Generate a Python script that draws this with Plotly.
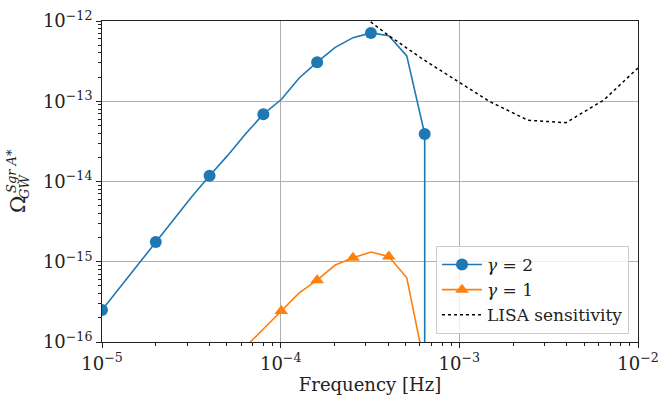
import plotly.graph_objects as go

# ---------------- data ----------------
freq_g2 = [1.0e-5, 1.26e-5, 1.59e-5, 2.0e-5, 2.52e-5, 3.17e-5, 4.0e-5, 5.04e-5, 6.35e-5,
           8.0e-5, 1.008e-4, 1.27e-4, 1.6e-4, 2.02e-4, 2.54e-4, 3.2e-4, 4.03e-4, 5.08e-4,
           6.4e-4, 6.41e-4]
omega_g2 = [2.5e-16, 4.8e-16, 9.2e-16, 1.76e-15, 3.4e-15, 6.4e-15, 1.18e-14, 2.1e-14, 3.9e-14,
            6.9e-14, 1.05e-13, 1.95e-13, 3.07e-13, 4.7e-13, 6.2e-13, 7.1e-13, 6.56e-13, 3.67e-13,
            3.9e-14, 1e-100]
marker_idx_g2 = [0, 3, 6, 9, 12, 15, 18]

freq_g1 = [5.04e-5, 6.35e-5, 8.0e-5, 1.008e-4, 1.27e-4, 1.6e-4, 2.02e-4, 2.54e-4, 3.2e-4,
           4.03e-4, 5.08e-4, 6.4e-4, 8.06e-4]
omega_g1 = [5.0e-17, 8.7e-17, 1.45e-16, 2.43e-16, 4.1e-16, 5.9e-16, 9.1e-16, 1.12e-15, 1.32e-15,
            1.16e-15, 6.3e-16, 5.0e-17, 1e-100]
marker_idx_g1 = [3, 5, 7, 9]

freq_lisa = [3.0e-4, 3.98e-4, 6.3e-4, 1.0e-3, 1.48e-3, 2.42e-3, 3.95e-3, 6.45e-3, 1.0e-2]
omega_lisa = [1.08e-12, 6.7e-13, 3.3e-13, 1.7e-13, 9.9e-14, 5.8e-14, 5.4e-14, 1.04e-13, 2.6e-13]

x_tickvals = [1e-5, 1e-4, 1e-3, 1e-2]
x_ticktext = ["10<sup>\u22125</sup>", "10<sup>\u22124</sup>", "10<sup>\u22123</sup>", "10<sup>\u22122</sup>"]
y_tickvals = [1e-16, 1e-15, 1e-14, 1e-13, 1e-12]
y_ticktext = ["10<sup>\u221216</sup>", "10<sup>\u221215</sup>", "10<sup>\u221214</sup>",
              "10<sup>\u221213</sup>", "10<sup>\u221212</sup>"]

labels = ["<i>\u03b3</i> = 2", "<i>\u03b3</i> = 1", "LISA sensitivity"]
BLUE = "#1f77b4"
ORANGE = "#ff7f0e"
FONT = "DejaVu Serif, serif"

def minor_vals(lo, hi):
    return [m * 10.0 ** e for e in range(lo, hi) for m in range(2, 10)]

fig = go.Figure()

# gamma = 2
fig.add_trace(go.Scatter(x=freq_g2, y=omega_g2, mode="lines", legendgroup="g2",
                         line=dict(color=BLUE, width=1.6), showlegend=False, hoverinfo="skip"))
fig.add_trace(go.Scatter(x=[freq_g2[i] for i in marker_idx_g2], y=[omega_g2[i] for i in marker_idx_g2],
                         mode="markers", legendgroup="g2",
                         marker=dict(color=BLUE, size=12, symbol="circle"), showlegend=False))
fig.add_trace(go.Scatter(x=[None], y=[None], mode="lines+markers", name=labels[0], legendgroup="g2",
                         line=dict(color=BLUE, width=1.6),
                         marker=dict(color=BLUE, size=12, symbol="circle")))

# gamma = 1
fig.add_trace(go.Scatter(x=freq_g1, y=omega_g1, mode="lines", legendgroup="g1",
                         line=dict(color=ORANGE, width=1.6), showlegend=False, hoverinfo="skip"))
fig.add_trace(go.Scatter(x=[freq_g1[i] for i in marker_idx_g1], y=[omega_g1[i] for i in marker_idx_g1],
                         mode="markers", legendgroup="g1",
                         marker=dict(color=ORANGE, size=12, symbol="triangle-up"), showlegend=False))
fig.add_trace(go.Scatter(x=[None], y=[None], mode="lines+markers", name=labels[1], legendgroup="g1",
                         line=dict(color=ORANGE, width=1.6),
                         marker=dict(color=ORANGE, size=12, symbol="triangle-up")))

# LISA
fig.add_trace(go.Scatter(x=freq_lisa, y=omega_lisa, mode="lines", name=labels[2], legendgroup="lisa",
                         line=dict(color="black", width=1.5, dash="dot")))

axis_common = dict(
    type="log", showgrid=True, gridcolor="#b0b0b0", gridwidth=1,
    showline=True, linecolor="#222", linewidth=1, mirror=True,
    ticks="outside", ticklen=5, tickcolor="#222", tickwidth=1,
    tickfont=dict(family=FONT, size=18, color="#222"),
    zeroline=False, automargin=False,
)

fig.update_xaxes(**axis_common, range=[-5, -2], tickvals=x_tickvals, ticktext=x_ticktext,
                 minor=dict(ticks="outside", ticklen=3, tickcolor="#222", showgrid=False,
                            tickvals=minor_vals(-5, -2)),
                 title=dict(text="Frequency [Hz]", font=dict(family=FONT, size=18, color="#222"),
                            standoff=2))
fig.update_yaxes(**axis_common, range=[-16, -12], tickvals=y_tickvals, ticktext=y_ticktext,
                 minor=dict(ticks="outside", ticklen=3, tickcolor="#222", showgrid=False,
                            tickvals=minor_vals(-16, -12)))

W, H = 670, 399
L, R, T, B = 102, 32, 21, 57
pw, ph = W - L - R, H - T - B

def px(xp):
    return (xp - L) / pw

def py(yp):
    return (H - B - yp) / ph

fig.add_annotation(text="\u03a9", xref="paper", yref="paper", x=px(18), y=py(205),
                   showarrow=False, textangle=-90, font=dict(family=FONT, size=21, color="#222"),
                   xanchor="center", yanchor="middle")
fig.add_annotation(text="<i>Sgr A*</i>", xref="paper", yref="paper", x=px(11), y=py(171),
                   showarrow=False, textangle=-90, font=dict(family=FONT, size=13, color="#222"),
                   xanchor="center", yanchor="middle")
fig.add_annotation(text="<i>GW</i>", xref="paper", yref="paper", x=px(24), y=py(187),
                   showarrow=False, textangle=-90, font=dict(family=FONT, size=13, color="#222"),
                   xanchor="center", yanchor="middle")

fig.update_layout(
    width=W, height=H,
    margin=dict(l=L, r=R, t=T, b=B, autoexpand=False),
    paper_bgcolor="white", plot_bgcolor="white",
    font=dict(family=FONT, size=16, color="#222"),
    legend=dict(x=px(629), y=py(334), xanchor="right", yanchor="bottom",
                bgcolor="rgba(255,255,255,0.8)", bordercolor="#cccccc", borderwidth=1,
                font=dict(family=FONT, size=17, color="#222"), tracegroupgap=8,
                traceorder="normal", itemwidth=40),
)

fig.write_html("out.html", config={"displayModeBar": False},
               post_script="document.body.style.margin='0';document.body.style.padding='0';")
